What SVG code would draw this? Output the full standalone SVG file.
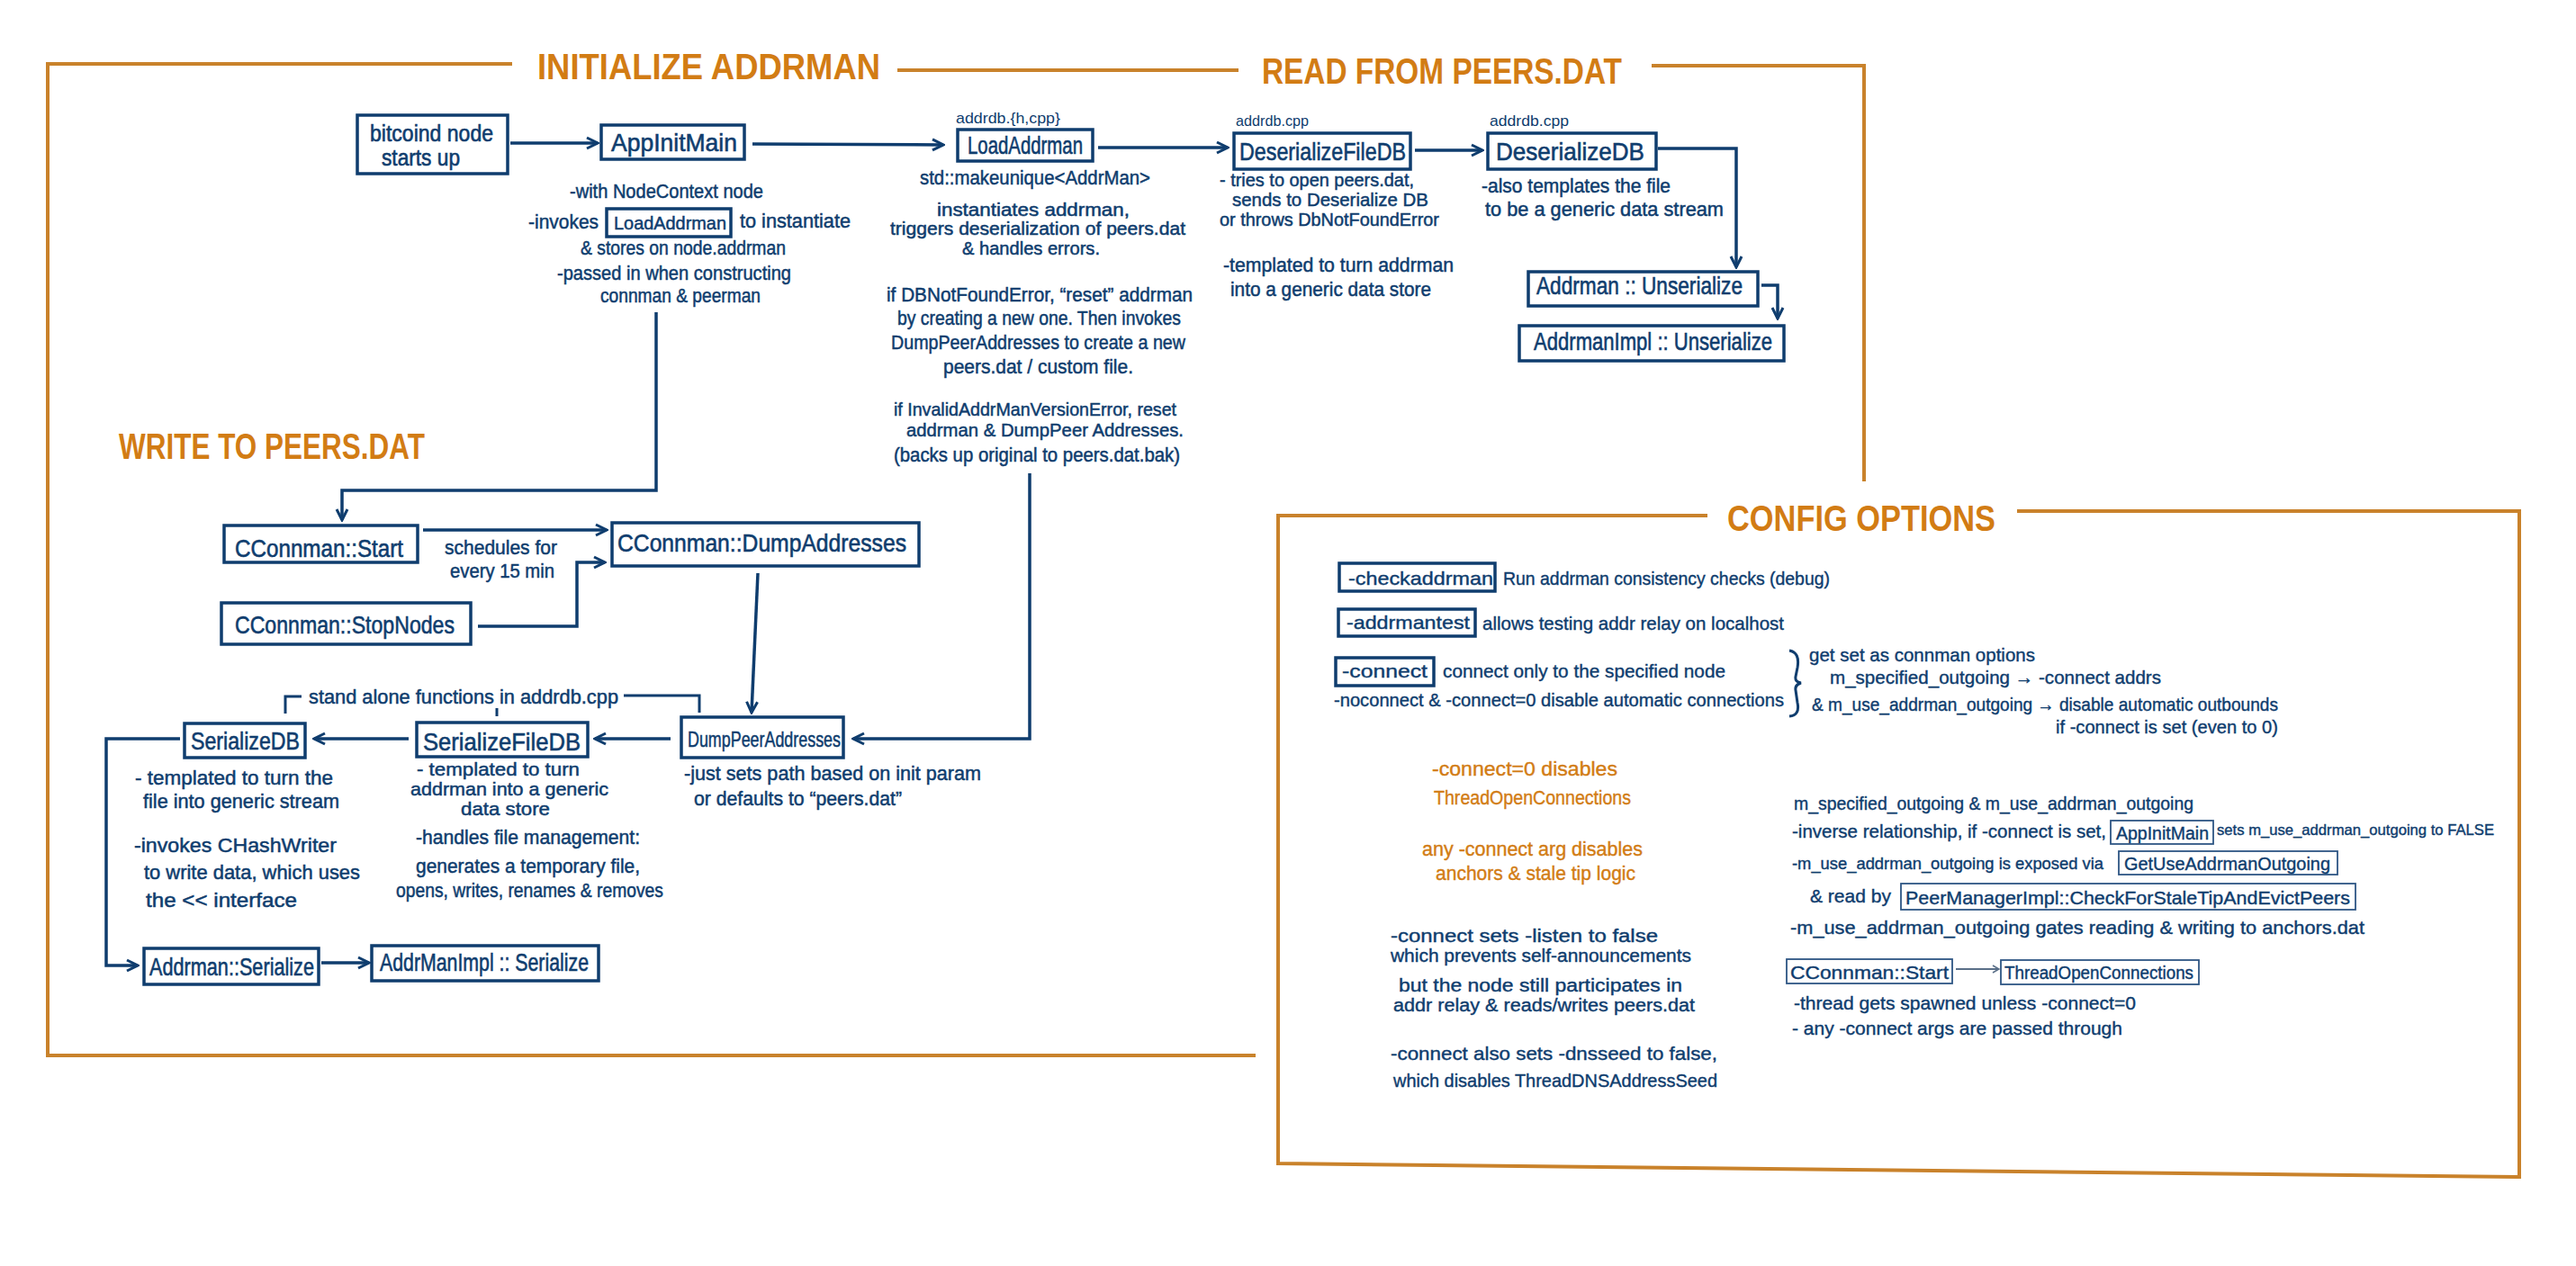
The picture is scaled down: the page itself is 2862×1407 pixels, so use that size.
<svg xmlns="http://www.w3.org/2000/svg" width="2862" height="1407" viewBox="0 0 2862 1407">
<style>
.frame{fill:none;stroke:#C9822B;stroke-width:4;stroke-linecap:square;stroke-linejoin:miter}
.title{font-family:"Liberation Sans",Arial,sans-serif;font-weight:bold;font-size:40px;fill:#D27C14}
.box{fill:none;stroke:#0F3D6E;stroke-width:3.5}
.tbox{fill:none;stroke:#2E5684;stroke-width:1.8}
.lbl{font-family:"Liberation Sans",Arial,sans-serif;font-size:28px;fill:#0F3D6E;stroke:#0F3D6E;stroke-width:0.6}
.lb2{font-family:"Liberation Sans",Arial,sans-serif;font-size:24px;fill:#0F3D6E;stroke:#0F3D6E;stroke-width:0.5}
.t{font-family:"Liberation Sans",Arial,sans-serif;font-size:22px;fill:#0F3D6E;stroke:#0F3D6E;stroke-width:0.5}
.cf{font-family:"Liberation Sans",Arial,sans-serif;font-size:21px;fill:#0F3D6E;stroke:#0F3D6E;stroke-width:0.4}
.sm{font-family:"Liberation Sans",Arial,sans-serif;font-size:17px;fill:#0F3D6E}
.o{font-family:"Liberation Sans",Arial,sans-serif;font-size:22px;fill:#D27C14;stroke:#D27C14;stroke-width:0.4}
.c{fill:none;stroke:#0F3D6E;stroke-width:3.5;stroke-linejoin:miter}
.ann{fill:none;stroke:#0F3D6E;stroke-width:3}
.thin{fill:none;stroke:#5A6F88;stroke-width:2}
</style>
<defs>
<marker id="ah" viewBox="0 0 16 16" refX="14" refY="8" markerWidth="16" markerHeight="16" markerUnits="userSpaceOnUse" orient="auto">
<path d="M2,2 L14,8 L2,14" fill="none" stroke="#0F3D6E" stroke-width="3"/>
</marker>
<marker id="aht" viewBox="0 0 10 10" refX="9" refY="5" markerWidth="10" markerHeight="10" markerUnits="userSpaceOnUse" orient="auto">
<path d="M2,1 L9,5 L2,9" fill="none" stroke="#5A6F88" stroke-width="1.6"/>
</marker>
</defs>
<rect x="0" y="0" width="2862" height="1407" fill="#ffffff"/>

<g id="frames">
<path class="frame" d="M567,71 H53 V1173 H1393"/>
<path class="frame" d="M999,78 H1374"/>
<path class="frame" d="M1837,73 H2071 V533"/>
<path class="frame" d="M1895,573 H1420 V1293 L2799,1308 V568 H2243"/>
</g>

<g id="titles">
<text class="title" x="597" y="88" textLength="381" lengthAdjust="spacingAndGlyphs">INITIALIZE ADDRMAN</text>
<text class="title" x="1402" y="93" textLength="400" lengthAdjust="spacingAndGlyphs">READ FROM PEERS.DAT</text>
<text class="title" x="132" y="510" textLength="340" lengthAdjust="spacingAndGlyphs">WRITE TO PEERS.DAT</text>
<text class="title" x="1919" y="590" textLength="298" lengthAdjust="spacingAndGlyphs">CONFIG OPTIONS</text>
</g>

<g id="connectors">
<path class="c" d="M567,159 H664" marker-end="url(#ah)"/>
<path class="c" d="M836,160 L1048,161" marker-end="url(#ah)"/>
<path class="c" d="M1220,164 H1364" marker-end="url(#ah)"/>
<path class="c" d="M1572,167 H1647" marker-end="url(#ah)"/>
<path class="c" d="M1842,165 H1929 V297" marker-end="url(#ah)"/>
<path class="c" d="M1957,317 H1975 V354" marker-end="url(#ah)"/>
<path class="c" d="M729,347 V545 H380 V578" marker-end="url(#ah)"/>
<path class="c" d="M470,589 H674" marker-end="url(#ah)"/>
<path class="c" d="M531,696 H641 V625 H672" marker-end="url(#ah)"/>
<path class="c" d="M842,637 L835,792" marker-end="url(#ah)"/>
<path class="c" d="M1144,526 V821 H948" marker-end="url(#ah)"/>
<path class="c" d="M745,821 H661" marker-end="url(#ah)"/>
<path class="c" d="M454,821 H349" marker-end="url(#ah)"/>
<path class="c" d="M200,821 H118 V1073 H153" marker-end="url(#ah)"/>
<path class="c" d="M357,1070 H410" marker-end="url(#ah)"/>
<path class="thin" d="M2173,1077 H2221" marker-end="url(#aht)"/>
</g>

<g id="n-bitcoind">
<rect class="box" x="397" y="128" width="167" height="65"/>
<text class="lbl" x="411" y="157" style="font-size:25px" textLength="137" lengthAdjust="spacingAndGlyphs">bitcoind node</text>
<text class="lbl" x="424" y="184" style="font-size:25px" textLength="87" lengthAdjust="spacingAndGlyphs">starts up</text>
</g>

<g id="n-appinitmain">
<rect class="box" x="668" y="139" width="159" height="38"/>
<text class="lbl" x="679" y="168" textLength="140" lengthAdjust="spacingAndGlyphs">AppInitMain</text>
<text class="t" x="633" y="220" textLength="215" lengthAdjust="spacingAndGlyphs">-with NodeContext node</text>
<text class="t" x="587" y="254" textLength="78" lengthAdjust="spacingAndGlyphs">-invokes</text>
<rect class="box" x="674" y="232" width="138" height="31" stroke-width="3"/>
<text class="t" x="682" y="255" style="font-size:21px" textLength="125" lengthAdjust="spacingAndGlyphs">LoadAddrman</text>
<text class="t" x="822" y="253" textLength="123" lengthAdjust="spacingAndGlyphs">to instantiate</text>
<text class="t" x="645" y="283" textLength="228" lengthAdjust="spacingAndGlyphs">&amp; stores on node.addrman</text>
<text class="t" x="619" y="311" textLength="260" lengthAdjust="spacingAndGlyphs">-passed in when constructing</text>
<text class="t" x="667" y="336" textLength="178" lengthAdjust="spacingAndGlyphs">connman &amp; peerman</text>
</g>

<g id="n-loadaddrman">
<text class="sm" x="1062" y="137" textLength="116" lengthAdjust="spacingAndGlyphs">addrdb.{h,cpp}</text>
<rect class="box" x="1064" y="144" width="150" height="35"/>
<text class="lbl" x="1075" y="171" textLength="128" lengthAdjust="spacingAndGlyphs">LoadAddrman</text>
<text class="t" x="1022" y="205" textLength="256" lengthAdjust="spacingAndGlyphs">std::makeunique&lt;AddrMan&gt;</text>
<text class="t" x="1041" y="240" style="font-size:20px" textLength="214" lengthAdjust="spacingAndGlyphs">instantiates addrman,</text>
<text class="t" x="989" y="261" style="font-size:20px" textLength="328" lengthAdjust="spacingAndGlyphs">triggers deserialization of peers.dat</text>
<text class="t" x="1069" y="283" style="font-size:20px" textLength="153" lengthAdjust="spacingAndGlyphs">&amp; handles errors.</text>
<text class="t" x="985" y="335" textLength="340" lengthAdjust="spacingAndGlyphs">if DBNotFoundError, “reset” addrman</text>
<text class="t" x="997" y="361" textLength="315" lengthAdjust="spacingAndGlyphs">by creating a new one. Then invokes</text>
<text class="t" x="990" y="388" textLength="327" lengthAdjust="spacingAndGlyphs">DumpPeerAddresses to create a new</text>
<text class="t" x="1048" y="415" textLength="211" lengthAdjust="spacingAndGlyphs">peers.dat / custom file.</text>
<text class="t" x="993" y="462" style="font-size:21px" textLength="314" lengthAdjust="spacingAndGlyphs">if InvalidAddrManVersionError, reset</text>
<text class="t" x="1007" y="485" style="font-size:21px" textLength="308" lengthAdjust="spacingAndGlyphs">addrman &amp; DumpPeer Addresses.</text>
<text class="t" x="993" y="513" textLength="318" lengthAdjust="spacingAndGlyphs">(backs up original to peers.dat.bak)</text>
</g>

<g id="n-deserializefiledb">
<text class="sm" x="1373" y="140" textLength="81" lengthAdjust="spacingAndGlyphs">addrdb.cpp</text>
<rect class="box" x="1371" y="148" width="196" height="40"/>
<text class="lbl" x="1377" y="178" textLength="185" lengthAdjust="spacingAndGlyphs">DeserializeFileDB</text>
<text class="t" x="1355" y="207" style="font-size:21px" textLength="216" lengthAdjust="spacingAndGlyphs">- tries to open peers.dat,</text>
<text class="t" x="1369" y="229" style="font-size:21px" textLength="218" lengthAdjust="spacingAndGlyphs">sends to Deserialize DB</text>
<text class="t" x="1355" y="251" style="font-size:21px" textLength="244" lengthAdjust="spacingAndGlyphs">or throws DbNotFoundError</text>
<text class="t" x="1359" y="302" textLength="256" lengthAdjust="spacingAndGlyphs">-templated to turn addrman</text>
<text class="t" x="1367" y="329" textLength="223" lengthAdjust="spacingAndGlyphs">into a generic data store</text>
</g>

<g id="n-deserializedb">
<text class="sm" x="1655" y="140" textLength="88" lengthAdjust="spacingAndGlyphs">addrdb.cpp</text>
<rect class="box" x="1653" y="148" width="187" height="40"/>
<text class="lbl" x="1662" y="178" textLength="165" lengthAdjust="spacingAndGlyphs">DeserializeDB</text>
<text class="t" x="1646" y="214" textLength="210" lengthAdjust="spacingAndGlyphs">-also templates the file</text>
<text class="t" x="1650" y="240" textLength="265" lengthAdjust="spacingAndGlyphs">to be a generic data stream</text>
</g>

<g id="n-addrman-unserialize">
<rect class="box" x="1698" y="302" width="255" height="38"/>
<text class="lbl" x="1707" y="327" textLength="229" lengthAdjust="spacingAndGlyphs">Addrman :: Unserialize</text>
</g>

<g id="n-addrmanimpl-unserialize">
<rect class="box" x="1688" y="362" width="294" height="39"/>
<text class="lbl" x="1704" y="389" textLength="265" lengthAdjust="spacingAndGlyphs">AddrmanImpl :: Unserialize</text>
</g>

<g id="n-cconnman-start">
<rect class="box" x="249" y="584" width="215" height="41"/>
<text class="lbl" x="261" y="619" style="font-size:27px" textLength="187" lengthAdjust="spacingAndGlyphs">CConnman::Start</text>
<text class="t" x="494" y="616" textLength="125" lengthAdjust="spacingAndGlyphs">schedules for</text>
<text class="t" x="500" y="642" textLength="116" lengthAdjust="spacingAndGlyphs">every 15 min</text>
</g>

<g id="n-cconnman-stopnodes">
<rect class="box" x="246" y="670" width="277" height="46"/>
<text class="lbl" x="261" y="704" textLength="244" lengthAdjust="spacingAndGlyphs">CConnman::StopNodes</text>
</g>

<g id="n-dumpaddresses">
<rect class="box" x="680" y="581" width="341" height="48"/>
<text class="lbl" x="686" y="613" textLength="321" lengthAdjust="spacingAndGlyphs">CConnman::DumpAddresses</text>
</g>

<g id="n-dumppeeraddresses">
<rect class="box" x="757" y="797" width="180" height="45"/>
<text class="lb2" x="764" y="830" textLength="170" lengthAdjust="spacingAndGlyphs">DumpPeerAddresses</text>
<text class="t" x="760" y="867" textLength="330" lengthAdjust="spacingAndGlyphs">-just sets path based on init param</text>
<text class="t" x="771" y="895" textLength="231" lengthAdjust="spacingAndGlyphs">or defaults to “peers.dat”</text>
</g>

<g id="standalone-note">
<path class="ann" d="M317,793 V774 H335"/>
<text class="t" x="343" y="782" textLength="344" lengthAdjust="spacingAndGlyphs">stand alone functions in addrdb.cpp</text>
<path class="ann" d="M693,773 H777 V792"/>
<path class="ann" d="M552,787 V796"/>
</g>

<g id="n-serializefiledb">
<rect class="box" x="463" y="803" width="190" height="38"/>
<text class="lbl" x="470" y="834" textLength="175" lengthAdjust="spacingAndGlyphs">SerializeFileDB</text>
<text class="t" x="463" y="862" style="font-size:21px" textLength="181" lengthAdjust="spacingAndGlyphs">- templated to turn</text>
<text class="t" x="456" y="884" style="font-size:21px" textLength="220" lengthAdjust="spacingAndGlyphs">addrman into a generic</text>
<text class="t" x="512" y="906" style="font-size:21px" textLength="99" lengthAdjust="spacingAndGlyphs">data store</text>
<text class="t" x="462" y="938" textLength="249" lengthAdjust="spacingAndGlyphs">-handles file management:</text>
<text class="t" x="462" y="970" textLength="249" lengthAdjust="spacingAndGlyphs">generates a temporary file,</text>
<text class="t" x="440" y="997" textLength="297" lengthAdjust="spacingAndGlyphs">opens, writes, renames &amp; removes</text>
</g>

<g id="n-serializedb">
<rect class="box" x="205" y="804" width="134" height="38"/>
<text class="lbl" x="212" y="833" textLength="121" lengthAdjust="spacingAndGlyphs">SerializeDB</text>
<text class="t" x="150" y="872" textLength="220" lengthAdjust="spacingAndGlyphs">- templated to turn the</text>
<text class="t" x="159" y="898" textLength="218" lengthAdjust="spacingAndGlyphs">file into generic stream</text>
<text class="t" x="149" y="947" textLength="225" lengthAdjust="spacingAndGlyphs">-invokes CHashWriter</text>
<text class="t" x="160" y="977" textLength="240" lengthAdjust="spacingAndGlyphs">to write data, which uses</text>
<text class="t" x="162" y="1008" textLength="168" lengthAdjust="spacingAndGlyphs">the &lt;&lt; interface</text>
</g>

<g id="n-addrman-serialize">
<rect class="box" x="160" y="1054" width="194" height="40"/>
<text class="lbl" x="166" y="1084" textLength="183" lengthAdjust="spacingAndGlyphs">Addrman::Serialize</text>
</g>

<g id="n-addrmanimpl-serialize">
<rect class="box" x="413" y="1051" width="252" height="39"/>
<text class="lbl" x="422" y="1079" textLength="232" lengthAdjust="spacingAndGlyphs">AddrManImpl :: Serialize</text>
</g>

<g id="cfg-checkaddrman">
<rect class="box" x="1488" y="626" width="173" height="31"/>
<text class="cf" x="1498" y="650" textLength="161" lengthAdjust="spacingAndGlyphs">-checkaddrman</text>
<text class="cf" x="1670" y="650" textLength="363" lengthAdjust="spacingAndGlyphs">Run addrman consistency checks (debug)</text>
</g>

<g id="cfg-addrmantest">
<rect class="box" x="1487" y="677" width="152" height="30"/>
<text class="cf" x="1496" y="699" textLength="137" lengthAdjust="spacingAndGlyphs">-addrmantest</text>
<text class="cf" x="1647" y="700" textLength="335" lengthAdjust="spacingAndGlyphs">allows testing addr relay on localhost</text>
</g>

<g id="cfg-connect">
<rect class="box" x="1484" y="731" width="109" height="31"/>
<text class="cf" x="1491" y="753" textLength="95" lengthAdjust="spacingAndGlyphs">-connect</text>
<text class="cf" x="1603" y="753" textLength="314" lengthAdjust="spacingAndGlyphs">connect only to the specified node</text>
<text class="cf" x="1482" y="785" style="font-size:20px" textLength="500" lengthAdjust="spacingAndGlyphs">-noconnect &amp; -connect=0 disable automatic connections</text>
<path class="ann" stroke-width="2.2" d="M1988,723 Q2000,725 1997,742 L1995,752 Q1994,758 2001,759 Q1994,761 1995,767 L1997,781 Q2000,795 1988,796"/>
<text class="cf" x="2010" y="735" textLength="251" lengthAdjust="spacingAndGlyphs">get set as connman options</text>
<text class="cf" x="2033" y="760" textLength="368" lengthAdjust="spacingAndGlyphs">m_specified_outgoing → -connect addrs</text>
<text class="cf" x="2013" y="790" textLength="518" lengthAdjust="spacingAndGlyphs">&amp; m_use_addrman_outgoing → disable automatic outbounds</text>
<text class="cf" x="2284" y="815" textLength="247" lengthAdjust="spacingAndGlyphs">if -connect is set (even to 0)</text>
</g>

<g id="cfg-notes-left">
<text class="o" x="1591" y="862" textLength="206" lengthAdjust="spacingAndGlyphs">-connect=0  disables</text>
<text class="o" x="1593" y="894" textLength="219" lengthAdjust="spacingAndGlyphs">ThreadOpenConnections</text>
<text class="o" x="1580" y="951" textLength="245" lengthAdjust="spacingAndGlyphs">any -connect arg disables</text>
<text class="o" x="1595" y="978" textLength="222" lengthAdjust="spacingAndGlyphs">anchors &amp; stale tip logic</text>
<text class="cf" x="1545" y="1047" style="font-size:20px" textLength="297" lengthAdjust="spacingAndGlyphs">-connect sets -listen to false</text>
<text class="cf" x="1545" y="1069" style="font-size:20px" textLength="334" lengthAdjust="spacingAndGlyphs">which prevents self-announcements</text>
<text class="cf" x="1554" y="1102" style="font-size:20px" textLength="315" lengthAdjust="spacingAndGlyphs">but the node still participates in</text>
<text class="cf" x="1548" y="1124" style="font-size:20px" textLength="335" lengthAdjust="spacingAndGlyphs">addr relay &amp; reads/writes peers.dat</text>
<text class="cf" x="1545" y="1178" textLength="363" lengthAdjust="spacingAndGlyphs">-connect also sets -dnsseed to false,</text>
<text class="cf" x="1548" y="1208" textLength="360" lengthAdjust="spacingAndGlyphs">which disables ThreadDNSAddressSeed</text>
</g>

<g id="cfg-notes-right">
<text class="cf" x="1993" y="900" textLength="444" lengthAdjust="spacingAndGlyphs">m_specified_outgoing &amp; m_use_addrman_outgoing</text>
<text class="cf" x="1991" y="931" textLength="349" lengthAdjust="spacingAndGlyphs">-inverse relationship, if -connect is set,</text>
<text class="cf" x="2463" y="928" style="font-size:17px" textLength="308" lengthAdjust="spacingAndGlyphs">sets m_use_addrman_outgoing to FALSE</text>
<text class="cf" x="1991" y="966" style="font-size:18.5px" textLength="346" lengthAdjust="spacingAndGlyphs">-m_use_addrman_outgoing is exposed via</text>
<text class="cf" x="2011" y="1003" textLength="90" lengthAdjust="spacingAndGlyphs">&amp; read by</text>
<text class="cf" x="1989" y="1038" textLength="638" lengthAdjust="spacingAndGlyphs">-m_use_addrman_outgoing gates reading &amp; writing to anchors.dat</text>
<text class="cf" x="1993" y="1122" textLength="380" lengthAdjust="spacingAndGlyphs">-thread gets spawned unless -connect=0</text>
<text class="cf" x="1991" y="1150" textLength="367" lengthAdjust="spacingAndGlyphs">- any -connect args are passed through</text>
</g>

<g id="cfg-appinitmain">
<rect class="tbox" x="2345" y="912" width="114" height="26"/>
<text class="cf" x="2351" y="933" style="font-size:20px" textLength="103" lengthAdjust="spacingAndGlyphs">AppInitMain</text>
</g>

<g id="cfg-getuseaddrmanoutgoing">
<rect class="tbox" x="2354" y="946" width="243" height="26"/>
<text class="cf" x="2360" y="967" textLength="229" lengthAdjust="spacingAndGlyphs">GetUseAddrmanOutgoing</text>
</g>

<g id="cfg-checkforstaletip">
<rect class="tbox" x="2112" y="982" width="505" height="29"/>
<text class="cf" x="2117" y="1005" textLength="494" lengthAdjust="spacingAndGlyphs">PeerManagerImpl::CheckForStaleTipAndEvictPeers</text>
</g>

<g id="cfg-cconnman-start">
<rect class="tbox" x="1985" y="1066" width="184" height="27"/>
<text class="cf" x="1989" y="1088" textLength="176" lengthAdjust="spacingAndGlyphs">CConnman::Start</text>
</g>

<g id="cfg-threadopenconnections">
<rect class="tbox" x="2223" y="1067" width="220" height="27"/>
<text class="cf" x="2227" y="1088" style="font-size:20px" textLength="210" lengthAdjust="spacingAndGlyphs">ThreadOpenConnections</text>
</g>
</svg>
